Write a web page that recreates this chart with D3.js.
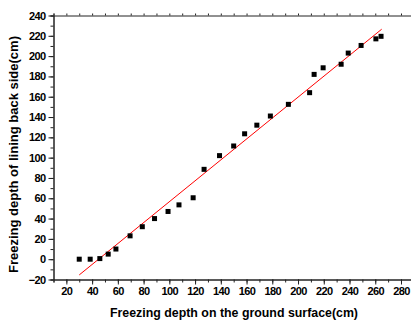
<!DOCTYPE html>
<html>
<head>
<meta charset="utf-8">
<script src="https://cdn.jsdelivr.net/npm/d3@7"></script>
<style>
    body { margin: 0; background: #fff; }
    svg { display: block; }
    text { font-family: "Liberation Sans", Arial, sans-serif; font-weight: bold; fill: #000; }
</style>
</head>
<body>
<div id="chart"></div>
<script>
// measured points (ground surface depth, lining back side depth)
const groundDepth = [ 30, 38.5, 46, 52.5, 58.5, 69.5, 79, 88.5, 99, 107.5, 118.5, 127, 139, 150, 158.5, 168, 178.5, 192.5, 209, 212.5, 219.5, 233.5, 239, 249, 260.5, 264.5 ];
const liningDepth = [ 0, 0, 0.6, 5, 10, 23, 32, 40, 47, 53.5, 60.5, 88.5, 102, 111.5, 123.5, 132, 141, 152.5, 164, 182, 188.5, 192, 203, 210.5, 217, 219.5 ];

// linear fit end points
const fitX = [ 30, 265 ];
const fitY = [ -15.5, 226.5 ];

const xMajorTicks = [ 20, 40, 60, 80, 100, 120, 140, 160, 180, 200, 220, 240, 260, 280 ];
const yMajorTicks = [ -20, 0, 20, 40, 60, 80, 100, 120, 140, 160, 180, 200, 220, 240 ];

const xTitle = 'Freezing depth on the ground surface(cm)';
const yTitle = 'Freezing depth of lining back side(cm)';

const width = 411;
const height = 321;

const svg = d3.select( '#chart' ).append( 'svg' )
    .attr( 'width', width )
    .attr( 'height', height );

const xScale = d3.scaleLinear()
    .domain( [ 10, 290 ] )
    .range( [ 53.5, 53.5 + 280 * 1.287 ] );

const yScale = d3.scaleLinear()
    .domain( [ -20, 240 ] )
    .range( [ 279.5, 15.5 ] );

const xMinor = d3.range( 10, 291, 10 );
const yMinor = d3.range( -20, 241, 10 );

// minor ticks first, majors on top
svg.append( 'g' )
    .attr( 'class', 'x-minor' )
    .attr( 'transform', `translate(0, ${ yScale( -20 ) })` )
    .call( d3.axisBottom( xScale ).tickValues( xMinor ).tickSize( 3 ).tickFormat( '' ) );

svg.append( 'g' )
    .attr( 'class', 'y-minor' )
    .attr( 'transform', `translate(${ xScale( 10 ) }, 0)` )
    .call( d3.axisLeft( yScale ).tickValues( yMinor ).tickSize( 3 ).tickFormat( '' ) );

svg.append( 'g' )
    .attr( 'class', 'x-top' )
    .attr( 'transform', `translate(0, ${ yScale( 240 ) })` )
    .call( d3.axisTop( xScale ).tickValues( xMinor ).tickSize( 2 ).tickFormat( '' ) );

const xG = svg.append( 'g' )
    .attr( 'class', 'x-group' )
    .attr( 'transform', `translate(0, ${ yScale( -20 ) })` )
    .call( d3.axisBottom( xScale ).tickValues( xMajorTicks ).tickSize( 5 ).tickSizeOuter( 0 ).tickPadding( 3 ) );

const yG = svg.append( 'g' )
    .attr( 'class', 'y-group' )
    .attr( 'transform', `translate(${ xScale( 10 ) }, 0)` )
    .call( d3.axisLeft( yScale ).tickValues( yMajorTicks ).tickSize( 5 ).tickSizeOuter( 0 ).tickPadding( 3 ) );

svg.selectAll( '.domain' ).attr( 'stroke', '#222' );
svg.selectAll( '.tick line' ).attr( 'stroke', '#222' );

xG.selectAll( 'text' )
    .style( 'font-size', '11px' )
    .style( 'letter-spacing', '-0.6px' );

yG.selectAll( 'text' )
    .style( 'font-size', '11px' )
    .style( 'letter-spacing', '-0.6px' );

// fitted line
svg.append( 'line' )
    .attr( 'x1', xScale( fitX[ 0 ] ) )
    .attr( 'y1', yScale( fitY[ 0 ] ) )
    .attr( 'x2', xScale( fitX[ 1 ] ) )
    .attr( 'y2', yScale( fitY[ 1 ] ) )
    .attr( 'stroke', '#ff0000' )
    .attr( 'stroke-width', 1 );

const points = groundDepth.map( ( g, i ) => ( { x: g, y: liningDepth[ i ] } ) );
const size = 5;

svg.selectAll( '.point' )
    .data( points )
    .enter()
    .append( 'rect' )
    .attr( 'class', 'point' )
    .attr( 'x', d => xScale( d.x ) - size / 2 )
    .attr( 'y', d => yScale( d.y ) - size / 2 )
    .attr( 'width', size )
    .attr( 'height', size )
    .attr( 'fill', '#000' );

svg.append( 'text' )
    .attr( 'x', 234 )
    .attr( 'y', 317 )
    .attr( 'text-anchor', 'middle' )
    .attr( 'textLength', 248 )
    .attr( 'lengthAdjust', 'spacingAndGlyphs' )
    .style( 'font-size', '12.5px' )
    .text( xTitle );

svg.append( 'text' )
    .attr( 'transform', 'translate(18, 154.5) rotate(-90)' )
    .attr( 'text-anchor', 'middle' )
    .attr( 'textLength', 237 )
    .attr( 'lengthAdjust', 'spacingAndGlyphs' )
    .style( 'font-size', '12.5px' )
    .text( yTitle );
</script>
</body>
</html>
